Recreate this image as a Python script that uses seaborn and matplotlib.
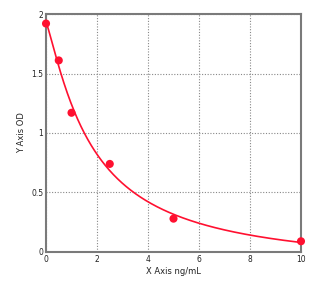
import numpy as np
import pandas as pd
import matplotlib
matplotlib.use("Agg")
import matplotlib.pyplot as plt
import seaborn as sns

# data
conc = [0, 0.5, 1, 2.5, 5, 10]
od = [1.92, 1.61, 1.17, 0.74, 0.28, 0.09]
x_ticks = [0, 2, 4, 6, 8, 10]
y_ticks = [0, 0.5, 1, 1.5, 2]
y_tick_labels = ["0", "0.5", "1", "1.5", "2"]
x_label = "X Axis ng/mL"
y_label = "Y Axis OD"

sns.set_theme(style="white")
plt.rcParams['font.family'] = ['DejaVu Sans']

df = pd.DataFrame({"conc": conc, "od": od})

# four-parameter logistic fit (grid over b, c; linear least squares for a, d)
x = df["conc"].to_numpy(float)
y = df["od"].to_numpy(float)
best = None
for b in np.linspace(0.5, 3.0, 126):
    for c in np.linspace(0.3, 15, 295):
        g = 1.0 / (1.0 + (x / c) ** b)
        A = np.column_stack([g, 1 - g])
        sol, *_ = np.linalg.lstsq(A, y, rcond=None)
        r = np.sum((A @ sol - y) ** 2)
        if best is None or r < best[0]:
            best = (r, b, c, sol)
_, b, c, (a, d) = best
xs = np.linspace(0, 10, 300)
fit = pd.DataFrame({"conc": xs, "od": d + (a - d) / (1.0 + (xs / c) ** b)})

fig = plt.figure(figsize=(3.32, 2.86), dpi=100)
ax = fig.add_axes([0.1386, 0.119, 0.768, 0.832])

sns.lineplot(data=fit, x="conc", y="od", ax=ax, color="#ff1030", lw=1.2, zorder=3)
sns.scatterplot(data=df, x="conc", y="od", ax=ax, color="#ff1030", s=34,
                edgecolor="none", zorder=4, clip_on=False)

ax.set_xlim(0, 10)
ax.set_ylim(0, 2)
ax.set_xticks(x_ticks)
ax.set_yticks(y_ticks)
ax.set_yticklabels(y_tick_labels)
ax.grid(True, linestyle=(0, (1, 1.5)), color="#888888", lw=0.8)
for s in ax.spines.values():
    s.set_color("#7a7a7a")
    s.set_linewidth(1.5)
ax.tick_params(length=0, labelsize=5.5, pad=2, colors="#222222")
ax.set_xlabel(x_label, fontsize=6, labelpad=2, color="#222222")
ax.set_ylabel(y_label, fontsize=6, labelpad=4, color="#222222")

fig.savefig("out.png", dpi=100, facecolor="white")
